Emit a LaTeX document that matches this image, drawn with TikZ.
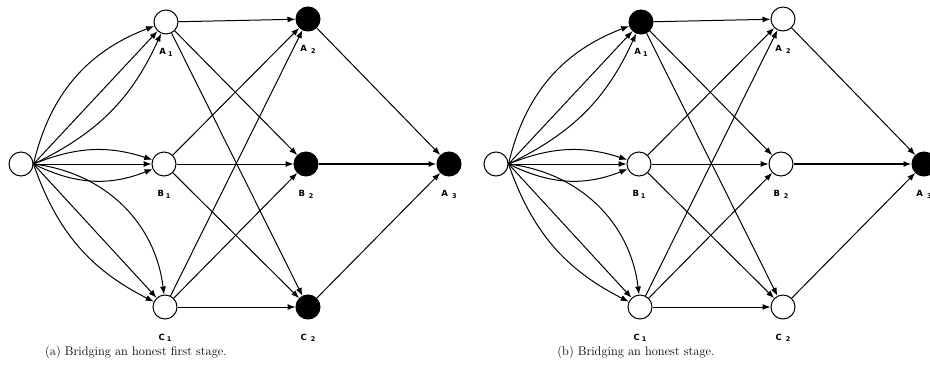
\documentclass[tikz,border=0pt]{standalone}
\usepackage{fontspec}
\usepackage{tikz}
\usetikzlibrary{arrows.meta}
\newfontfamily\lblfont{DejaVu Sans}
% vertex name with a lowered index
\newcommand{\vname}[3]{{\lblfont\bfseries\fontsize{8.5}{9}\selectfont #1\hspace{#3}\raisebox{-1.8pt}{\fontsize{6.5}{7}\selectfont #2}}}

\begin{document}
\begin{tikzpicture}[x=1pt,y=1pt,>={Latex[length=8pt,width=6pt]}]
  \useasboundingbox (0,0) rectangle (930,-381);
  \tikzset{
    vtx/.style={circle,draw,line width=1pt,minimum size=24pt,inner sep=0pt,fill=white},
    hit/.style={vtx,fill=black},
    edge/.style={->,line width=1pt},
    lbl/.style={label distance=14pt,inner sep=0pt},
    capt/.style={font=\fontsize{12.5}{15}\selectfont}
  }
  % (a) first stage bridged
  \node[vtx] (aS) at (21,-164) {};
  \node[vtx,label={[lbl,name=aA1l]below:\vname{A}{1}{2pt}}] (aA1) at (166,-22) {};
  \node[vtx,label={[lbl,name=aB1l]below:\vname{B}{1}{2pt}}] (aB1) at (164,-164) {};
  \node[vtx,label={[lbl,name=aC1l]below:\vname{C}{1}{2pt}}] (aC1) at (165,-307) {};
  \node[hit,label={[lbl,name=aA2l]below:\vname{A}{2}{4pt}}] (aA2) at (308,-19) {};
  \node[hit,label={[lbl,name=aB2l]below:\vname{B}{2}{4pt}}] (aB2) at (306,-164) {};
  \node[hit,label={[lbl,name=aC2l]below:\vname{C}{2}{4pt}}] (aC2) at (308,-307) {};
  \node[hit,label={[lbl,name=aA3l]below:\vname{A}{3}{4pt}}] (aA3) at (449,-164) {};
  \node[capt] (capa) at (136,-352) {(a) Bridging an honest first stage.};

  % (b) later stage bridged
  \node[vtx] (bS) at (496,-164) {};
  \node[hit,label={[lbl,name=bA1l]below:\vname{A}{1}{2pt}}] (bA1) at (641,-22) {};
  \node[vtx,label={[lbl,name=bB1l]below:\vname{B}{1}{2pt}}] (bB1) at (639,-164) {};
  \node[vtx,label={[lbl,name=bC1l]below:\vname{C}{1}{2pt}}] (bC1) at (640,-307) {};
  \node[vtx,label={[lbl,name=bA2l]below:\vname{A}{2}{4pt}}] (bA2) at (783,-19) {};
  \node[vtx,label={[lbl,name=bB2l]below:\vname{B}{2}{4pt}}] (bB2) at (781,-164) {};
  \node[vtx,label={[lbl,name=bC2l]below:\vname{C}{2}{4pt}}] (bC2) at (783,-307) {};
  \node[hit,label={[lbl,name=bA3l]below:\vname{A}{3}{4pt}}] (bA3) at (924,-164) {};
  \node[capt] (capb) at (636,-352) {(b) Bridging an honest stage.};

  \foreach \p in {a,b}{
    % source fans out to the first column
    \draw[edge] (\p S.east) to[bend left=28] (\p A1);
    \draw[edge] (\p S.east) -- (\p A1);
    \draw[edge] (\p S.east) to[bend right=20] (\p A1);
    \draw[edge] (\p S.east) to[bend left=20] (\p B1);
    \draw[edge] (\p S.east) -- (\p B1);
    \draw[edge] (\p S.east) to[bend right=24] (\p B1);
    \draw[edge] (\p S.east) to[bend right=22] (\p C1);
    \draw[edge] (\p S.east) -- (\p C1);
    \draw[edge] (\p S.east) to[bend left=38] (\p C1);
    % every first-column vertex to every second-column vertex
    \foreach \u in {A1,B1,C1}
      \foreach \v in {A2,B2,C2}
        \draw[edge] (\p\u) -- (\p\v);
    % into the last vertex
    \draw[edge] (\p A2) -- (\p A3);
    \draw[edge,line width=1.6pt] (\p B2) -- (\p A3);
    \draw[edge] (\p C2) -- (\p A3);
  }
\end{tikzpicture}
\end{document}
